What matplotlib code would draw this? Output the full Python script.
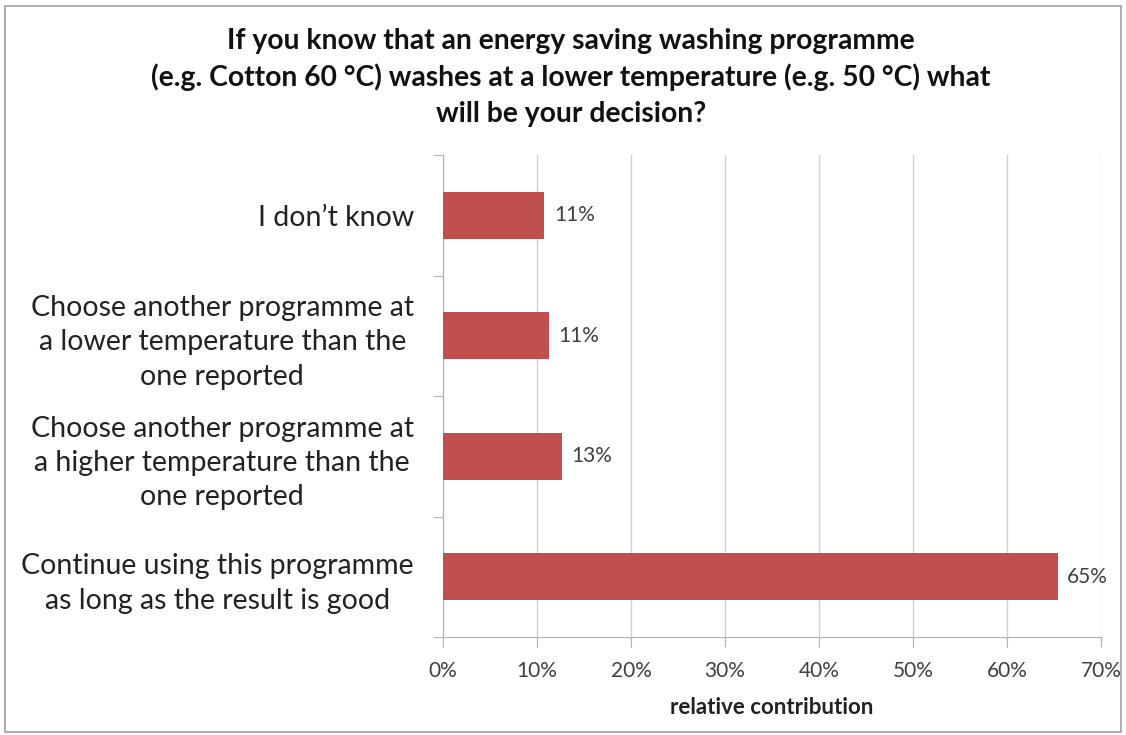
import matplotlib.pyplot as plt
from matplotlib.patches import Rectangle

categories = ["Continue using this programme\nas long as the result is good",
              "Choose another programme at\na higher temperature than the\none reported",
              "Choose another programme at\na lower temperature than the\none reported",
              "I don\u2019t know"]
values = [65.4, 12.7, 11.3, 10.8]
labels = ["65%", "13%", "11%", "11%"]
xticks = [0, 10, 20, 30, 40, 50, 60, 70]

plt.rcParams['font.family'] = ['Lato', 'DejaVu Sans']

fig = plt.figure(figsize=(11.26, 7.35), dpi=100)
ax = fig.add_axes([0.3934, 0.1333, 0.5844, 0.6558])

ypos = list(range(len(categories)))
ax.barh(ypos, values, height=0.39, color="#C0504D", zorder=3)
for y, v, t in zip(ypos, values, labels):
    ax.text(v + 1, y, t, va="center", ha="left", fontsize=15, color="#404040")

ax.set_xlim(0, 70)
ax.set_ylim(-0.5, 3.5)
ax.set_xticks(xticks)
ax.set_xticklabels([f"{x}%" for x in xticks], fontsize=15, color="#404040")
ax.set_yticks([y - 0.5 for y in range(5)], minor=False)
ax.set_yticklabels([])
ax.set_yticks(ypos, minor=True)
ax.set_yticklabels(categories, minor=True, fontsize=20.5, color="#222222",
                   multialignment="center", linespacing=1.4)
ax.tick_params(axis="y", which="minor", length=0, pad=21)
ax.tick_params(axis="y", which="major", length=7, color="#b0b0b0")
ax.tick_params(axis="x", length=7, color="#b0b0b0", pad=10)
ax.grid(axis="x", color="#d0d0d0", linewidth=1, zorder=0)
for s in ["top", "right"]:
    ax.spines[s].set_visible(False)
ax.spines["left"].set_color("#b0b0b0")
ax.spines["bottom"].set_color("#b0b0b0")
ax.set_xlabel("relative contribution", fontsize=16, fontweight="bold", color="#222222", labelpad=12)

fig.text(0.507, 0.895, "If you know that an energy saving washing programme\n"
         "(e.g. Cotton 60 \u00b0C) washes at a lower temperature (e.g. 50 \u00b0C) what\n"
         "will be your decision?", ha="center", va="center", fontsize=20.3,
         fontweight="bold", linespacing=1.45, color="#111111")

fig.patches.append(Rectangle((0.004, 0.004), 0.992, 0.988, transform=fig.transFigure,
                             fill=False, edgecolor="#a0a0a0", linewidth=1.2))

fig.savefig("out.png", dpi=100)
